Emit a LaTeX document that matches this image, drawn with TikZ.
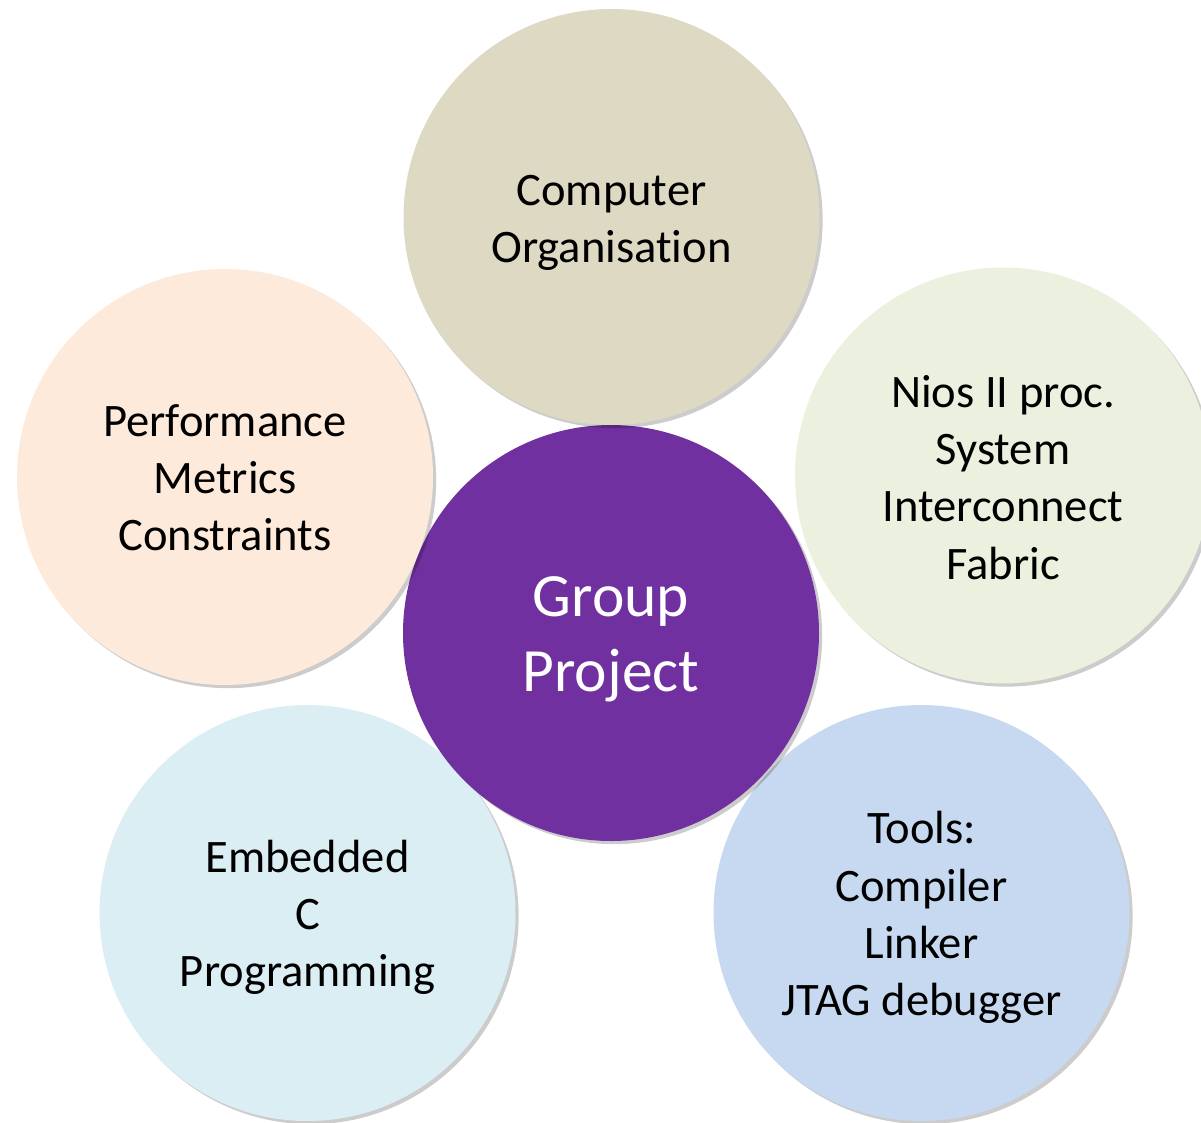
\documentclass[tikz,border=0pt]{standalone}
\usepackage{fontspec}
\setmainfont[RawFeature=-liga]{Carlito}
\usetikzlibrary{shadows}
\definecolor{cTop}{HTML}{DDD9C3}
\definecolor{cLeft}{HTML}{FDEADA}
\definecolor{cRight}{HTML}{EBF1DE}
\definecolor{cBL}{HTML}{DBEEF4}
\definecolor{cBR}{HTML}{C6D9F1}
\definecolor{cMid}{HTML}{7030A0}
\tikzset{
  bubble/.style={circle, minimum size=416*0.02cm, inner sep=0pt,
    drop shadow={shadow xshift=1.8pt, shadow yshift=-1.8pt, opacity=0.2, fill=black}},
  txt/.style={align=center, inner sep=0pt,
    font=\fontsize{26.5}{32.6}\selectfont, text=black},
  hubtxt/.style={txt, text=white, font=\fontsize{35}{42.5}\selectfont}
}
\begin{document}
\begin{tikzpicture}[x=0.02cm, y=-0.02cm]
\useasboundingbox (0,0) rectangle (1201,1123);
\clip (0,0) rectangle (1201,1123);
\node[bubble, fill=cBL] (emb) at (307.5,913) {};
\node[txt] (embt) at ([yshift=-0.09cm]emb) {Embedded\\C\\Programming};
\node[bubble, fill=cBR] (tools) at (921.5,913) {};
\node[txt] (toolst) at ([yshift=-0.09cm]tools) {Tools:\\Compiler\\Linker\\JTAG debugger};
\node[bubble, fill=cMid] (gp) at (611,633) {};
\node[hubtxt] (gpt) at ([yshift=-0.12cm]gp) {Group\\Project};
\node[bubble, fill=cLeft] (perf) at (225,477) {};
\node[txt] (perft) at ([yshift=-0.01cm]perf) {Performance\\Metrics\\Constraints};
\node[bubble, fill=cRight] (nios) at (1003,475.5) {};
\node[txt] (niost) at ([yshift=-0.04cm]nios) {Nios II proc.\\System\\Interconnect\\Fabric};
\node[bubble, fill=cTop] (co) at (611.5,217) {};
\node[txt] (cot) at ([yshift=-0.12cm]co) {Computer\\Organisation};
\end{tikzpicture}
\end{document}
